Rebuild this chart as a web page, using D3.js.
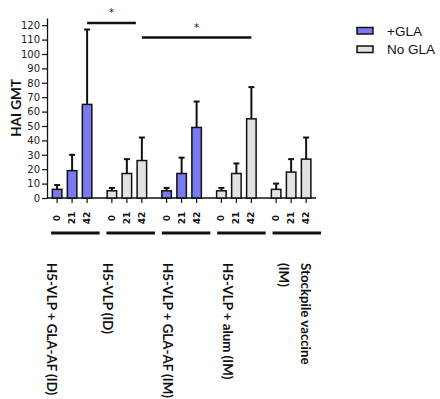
<!DOCTYPE html>
<html lang="en">
  <head>
    <meta charset="utf-8" />
    <title>HAI GMT bar chart</title>
    <script type="text/javascript" src="https://d3js.org/d3.v7.min.js"></script>
    <style>
      body { margin: 0; background: #fff; }
    </style>
  </head>
  <body>
    <div id="graph"></div>

    <script type="text/javascript">
      /***************
       * data
       ***************/

      const groups = [
        "H5-VLP + GLA-AF (ID)",
        "H5-VLP (ID)",
        "H5-VLP + GLA-AF (IM)",
        "H5-VLP + alum (IM)",
        "Stockpile vaccine (IM)"
      ];
      const groupLines = [
        ["H5-VLP + GLA-AF (ID)"],
        ["H5-VLP (ID)"],
        ["H5-VLP + GLA-AF (IM)"],
        ["H5-VLP + alum (IM)"],
        ["Stockpile vaccine", "(IM)"]
      ];
      const hasGLA = [true, false, true, false, false];
      const days = ["0", "21", "42"];

      // geometric mean titres per group, per day
      const gmt = [
        [6, 19, 65],
        [5, 17, 26],
        [5, 17, 49],
        [5, 17, 55],
        [6, 18, 27]
      ];
      // upper error (added on top of the bar)
      const errUp = [
        [3, 11, 52],
        [2, 10, 16],
        [2, 11, 18],
        [2, 7, 22],
        [4, 9, 15]
      ];
      const yTicks = [0, 10, 20, 30, 40, 50, 60, 70, 80, 90, 100, 110, 120];
      const legendLabels = ["+GLA", "No GLA"];

      // significance brackets: [group, day] -> [group, day]
      const sigPairs = [
        { from: [0, 2], to: [1, 2], level: 122, trim: 6 },
        { from: [1, 2], to: [3, 2], level: 112, trim: 0 }
      ];

      /***************
       * svg
       ***************/

      const width = 440;
      const height = 399;
      const blue = "#7b7bf0";
      const grey = "#e2e2e2";
      const ink = "#111";

      const svg = d3
        .select("div#graph")
        .append("svg")
        .attr("width", width)
        .attr("height", height);

      /***************
       * scales
       ***************/

      const x0 = d3.scaleBand().domain(d3.range(groups.length)).range([44.6, 318.4]);
      const x1 = d3.scaleBand().domain(days).range([5, 50]);
      const y = d3.scaleLinear().domain([0, 125]).range([198, 18]);
      const barW = 9.5;

      const cx = (g, d) => x0(g) + x1(d) + x1.bandwidth() / 2;

      /***************
       * axes
       ***************/

      const yAxis = svg
        .append("g")
        .attr("transform", "translate(47,0)")
        .call(d3.axisLeft(y).tickValues(yTicks).tickSize(5).tickSizeOuter(0));
      yAxis.select(".domain").attr("stroke", ink).attr("stroke-width", 1.3);
      yAxis.selectAll(".tick line").attr("stroke", ink).attr("stroke-width", 1.2);
      yAxis
        .selectAll(".tick text")
        .attr("x", -7)
        .attr("font-family", "DejaVu Sans")
        .attr("font-size", 10)
        .attr("fill", "#222");

      svg
        .append("text")
        .attr("transform", "translate(21,108) rotate(-90)")
        .attr("text-anchor", "middle")
        .attr("font-family", "Lato")
        .attr("font-weight", "bold")
        .attr("font-size", 13.5)
        .attr("fill", ink)
        .text("HAI GMT");

      // baseline
      svg
        .append("line")
        .attr("x1", 47)
        .attr("x2", 316)
        .attr("y1", y(0))
        .attr("y2", y(0))
        .attr("stroke", ink)
        .attr("stroke-width", 1.3);

      /***************
       * bars
       ***************/

      const cells = [];
      groups.forEach((g, gi) => {
        days.forEach((d, di) => {
          cells.push({ g: gi, day: d, value: gmt[gi][di], err: errUp[gi][di], gla: hasGLA[gi] });
        });
      });

      const cell = svg.selectAll("g.cell").data(cells).enter().append("g").attr("class", "cell");

      // tick marks under each bar
      cell
        .append("line")
        .attr("x1", (d) => cx(d.g, d.day))
        .attr("x2", (d) => cx(d.g, d.day))
        .attr("y1", y(0))
        .attr("y2", y(0) + 5)
        .attr("stroke", ink)
        .attr("stroke-width", 1.2);

      // error bars
      cell
        .append("line")
        .attr("x1", (d) => cx(d.g, d.day))
        .attr("x2", (d) => cx(d.g, d.day))
        .attr("y1", (d) => y(d.value))
        .attr("y2", (d) => y(d.value + d.err))
        .attr("stroke", ink)
        .attr("stroke-width", 2);
      cell
        .append("line")
        .attr("x1", (d) => cx(d.g, d.day) - 3)
        .attr("x2", (d) => cx(d.g, d.day) + 3)
        .attr("y1", (d) => y(d.value + d.err))
        .attr("y2", (d) => y(d.value + d.err))
        .attr("stroke", ink)
        .attr("stroke-width", 2);

      cell
        .append("rect")
        .attr("x", (d) => cx(d.g, d.day) - barW / 2)
        .attr("width", barW)
        .attr("y", (d) => y(d.value))
        .attr("height", (d) => y(0) - y(d.value))
        .attr("fill", (d) => (d.gla ? blue : grey))
        .attr("stroke", ink)
        .attr("stroke-width", 1.5);

      // day labels
      cell
        .append("text")
        .attr("transform", (d) => "translate(" + cx(d.g, d.day) + ",218) rotate(-90)")
        .attr("text-anchor", "middle")
        .attr("dominant-baseline", "central")
        .attr("font-family", "DejaVu Sans")
        .attr("font-weight", "bold")
        .attr("font-size", 9)
        .attr("fill", ink)
        .text((d) => d.day);

      /***************
       * group underlines + labels
       ***************/

      const labelDx = [-20, -19, -14, -8, 15];

      svg
        .selectAll("line.under")
        .data(groups)
        .enter()
        .append("line")
        .attr("class", "under")
        .attr("x1", (d, i) => x0(i) + 6.5 + i * 0.6)
        .attr("x2", (d, i) => x0(i) + 55 + i * 0.6)
        .attr("y1", 233)
        .attr("y2", 233)
        .attr("stroke", ink)
        .attr("stroke-width", 3);

      const glab = svg
        .selectAll("text.group")
        .data(groupLines)
        .enter()
        .append("text")
        .attr("class", "group")
        .attr("font-family", "Lato")
        .attr("font-weight", "bold")
        .attr("font-size", 13.3)
        .attr("fill", ink)
        .attr("dominant-baseline", "central")
        .attr("transform", (d, i) => "translate(" + (x0(i) + 27.4 + labelDx[i]) + ",263) rotate(90)");

      glab
        .selectAll("tspan")
        .data((d) => d)
        .enter()
        .append("tspan")
        .attr("x", 0)
        .attr("y", (d, i) => i * 22)
        .text((d) => d);

      /***************
       * significance
       ***************/

      const sig = svg.selectAll("g.sig").data(sigPairs).enter().append("g").attr("class", "sig");
      sig
        .append("line")
        .attr("x1", (d) => cx(d.from[0], days[d.from[1]]))
        .attr("x2", (d) => cx(d.to[0], days[d.to[1]]) - d.trim)
        .attr("y1", (d) => y(d.level) + 0.8)
        .attr("y2", (d) => y(d.level) + 0.8)
        .attr("stroke", ink)
        .attr("stroke-width", 2.5);
      sig
        .append("text")
        .attr("x", (d) => (cx(d.from[0], days[d.from[1]]) + cx(d.to[0], days[d.to[1]]) - d.trim) / 2)
        .attr("y", (d) => y(d.level) - 6)
        .attr("text-anchor", "middle")
        .attr("font-family", "DejaVu Sans")
        .attr("font-size", 10)
        .attr("fill", ink)
        .text("*");

      /***************
       * legend
       ***************/

      const legend = svg
        .selectAll("g.legend")
        .data(legendLabels)
        .enter()
        .append("g")
        .attr("class", "legend")
        .attr("transform", (d, i) => "translate(357," + (27.5 + i * 18.5) + ")");
      legend
        .append("rect")
        .attr("width", 16)
        .attr("height", 6.5)
        .attr("fill", (d, i) => (i === 0 ? blue : grey))
        .attr("stroke", ink)
        .attr("stroke-width", 1.5);
      legend
        .append("text")
        .attr("x", 30)
        .attr("y", 3.5)
        .attr("dominant-baseline", "central")
        .attr("font-family", "Liberation Sans")
        .attr("font-size", 13.5)
        .attr("fill", ink)
        .text((d) => d);
    </script>
  </body>
</html>
